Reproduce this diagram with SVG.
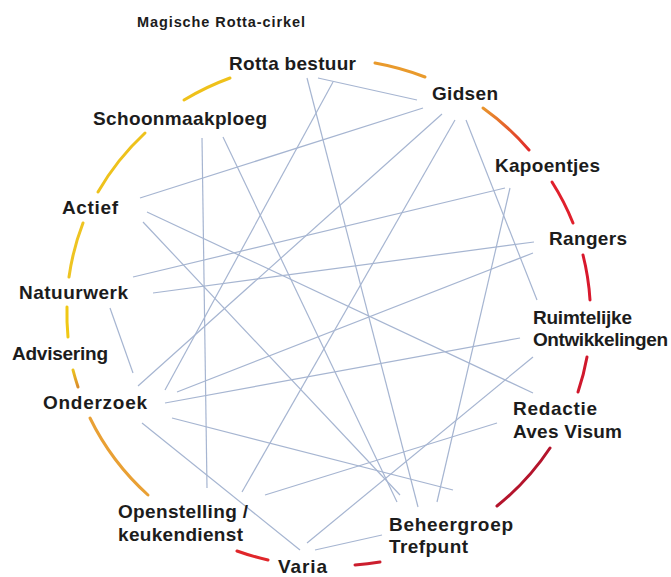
<svg xmlns="http://www.w3.org/2000/svg" width="671" height="577" viewBox="0 0 671 577">
<style>
.lbl{font-family:"Liberation Sans",Arial,sans-serif;font-weight:bold;font-size:19px;fill:#1c1c1c}
.ttl{font-family:"Liberation Sans",Arial,sans-serif;font-weight:bold;font-size:14.5px;fill:#1c1c1c}
.arc{fill:none;stroke-width:3;stroke-linecap:round}
#connectors line{stroke:#a6b5d1;stroke-width:1.2}
</style>
<defs>
<linearGradient id="gk" gradientUnits="userSpaceOnUse" x1="483" y1="108" x2="529" y2="150">
<stop offset="0" stop-color="#e9952c"/><stop offset="1" stop-color="#e02a2a"/>
</linearGradient>
<linearGradient id="ao" gradientUnits="userSpaceOnUse" x1="73" y1="370" x2="78" y2="387">
<stop offset="0" stop-color="#ecc21e"/><stop offset="1" stop-color="#d98c2c"/>
</linearGradient>
</defs>
<rect width="671" height="577" fill="#ffffff"/>
<text class="ttl" x="137" y="27" textLength="168">Magische Rotta-cirkel</text>
<g id="ring">
<path class="arc" stroke="#eec21c" d="M98,192 A262,252 0 0 1 145,133"/>
<path class="arc" stroke="#efc11a" d="M184,100 A262,252 0 0 1 230,78"/>
<path class="arc" stroke="#e99a2c" d="M375,63 A262,252 0 0 1 425,77"/>
<path class="arc" stroke="url(#gk)" d="M483,108 A262,252 0 0 1 529,150"/>
<path class="arc" stroke="#e0202c" d="M552,182 A262,252 0 0 1 573,223"/>
<path class="arc" stroke="#d8182c" d="M583,255 A262,252 0 0 1 590,300"/>
<path class="arc" stroke="#d0182c" d="M587,357 A262,252 0 0 1 578,392"/>
<path class="arc" stroke="#b4142c" d="M550,448 A262,252 0 0 1 497,506"/>
<path class="arc" stroke="#cc1e2e" d="M380,562 A262,252 0 0 1 355,565"/>
<path class="arc" stroke="#e0262a" d="M268,560 A262,252 0 0 1 237,551"/>
<path class="arc" stroke="#e9a034" d="M148,495 A262,252 0 0 1 90,418"/>
<path class="arc" stroke="url(#ao)" d="M78,387 A262,252 0 0 1 73,370"/>
<path class="arc" stroke="#f0c814" d="M68,337 A262,252 0 0 1 67,307"/>
<path class="arc" stroke="#eec422" d="M69,277 A262,252 0 0 1 83,223"/>
</g>
<g id="connectors">
<line x1="318" y1="78" x2="417" y2="100"/>
<line x1="307" y1="78" x2="418" y2="507"/>
<line x1="333" y1="82" x2="165" y2="390"/>
<line x1="140" y1="198" x2="423" y2="108"/>
<line x1="147" y1="212" x2="533" y2="393"/>
<line x1="143" y1="222" x2="400" y2="495"/>
<line x1="202" y1="138" x2="207" y2="488"/>
<line x1="223" y1="137" x2="397" y2="502"/>
<line x1="133" y1="277" x2="505" y2="188"/>
<line x1="153" y1="293" x2="534" y2="242"/>
<line x1="110" y1="308" x2="133" y2="373"/>
<line x1="442" y1="114" x2="138" y2="386"/>
<line x1="455" y1="120" x2="242" y2="492"/>
<line x1="466" y1="120" x2="537" y2="300"/>
<line x1="510" y1="188" x2="437" y2="502"/>
<line x1="177" y1="392" x2="533" y2="253"/>
<line x1="165" y1="403" x2="520" y2="338"/>
<line x1="172" y1="418" x2="453" y2="490"/>
<line x1="142" y1="423" x2="300" y2="550"/>
<line x1="265" y1="495" x2="497" y2="423"/>
<line x1="533" y1="357" x2="307" y2="543"/>
<line x1="315" y1="550" x2="382" y2="535"/>
</g>
<g id="rotta-bestuur"><text class="lbl" x="229" y="70" textLength="127">Rotta bestuur</text></g>
<g id="gidsen"><text class="lbl" x="432" y="100" textLength="66">Gidsen</text></g>
<g id="kapoentjes"><text class="lbl" x="495" y="172" textLength="105">Kapoentjes</text></g>
<g id="schoonmaakploeg"><text class="lbl" x="93" y="125" textLength="174">Schoonmaakploeg</text></g>
<g id="actief"><text class="lbl" x="62" y="214" textLength="56">Actief</text></g>
<g id="natuurwerk"><text class="lbl" x="19" y="299" textLength="109">Natuurwerk</text></g>
<g id="advisering"><text class="lbl" x="12" y="360" textLength="96">Advisering</text></g>
<g id="rangers"><text class="lbl" x="549" y="245" textLength="78">Rangers</text></g>
<g id="ruimtelijke"><text class="lbl" x="533" y="324" textLength="99">Ruimtelijke</text><text class="lbl" x="533" y="346" textLength="135">Ontwikkelingen</text></g>
<g id="onderzoek"><text class="lbl" x="43" y="409" textLength="104">Onderzoek</text></g>
<g id="openstelling"><text class="lbl" x="118" y="518" textLength="130">Openstelling /</text><text class="lbl" x="118" y="541" textLength="125">keukendienst</text></g>
<g id="varia"><text class="lbl" x="278" y="573" textLength="49">Varia</text></g>
<g id="redactie"><text class="lbl" x="513" y="415" textLength="84">Redactie</text><text class="lbl" x="513" y="438" textLength="109">Aves Visum</text></g>
<g id="beheergroep"><text class="lbl" x="389" y="531" textLength="124">Beheergroep</text><text class="lbl" x="389" y="553" textLength="79">Trefpunt</text></g>
</svg>
